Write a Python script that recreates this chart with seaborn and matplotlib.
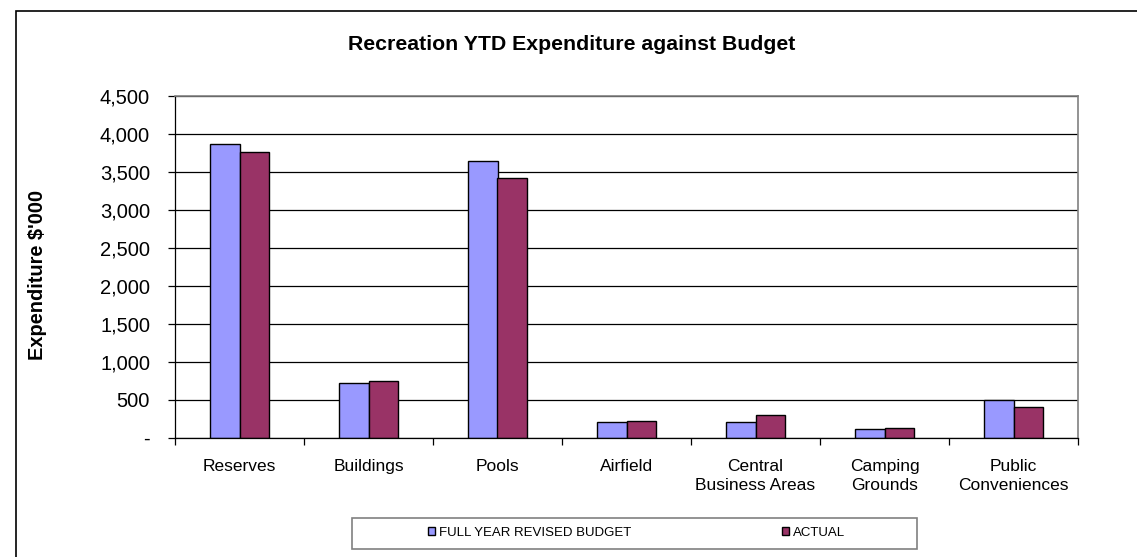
import matplotlib
matplotlib.use("Agg")
import matplotlib.pyplot as plt
from matplotlib.patches import Rectangle
from matplotlib.ticker import FuncFormatter, FixedLocator
import seaborn as sns
import pandas as pd

categories = ["Reserves", "Buildings", "Pools", "Airfield",
              "Central\nBusiness Areas", "Camping\nGrounds", "Public\nConveniences"]
budget = [3870, 718, 3635, 203, 203, 111, 500]
actual = [3765, 752, 3413, 224, 296, 128, 409]
series_names = ["FULL YEAR REVISED BUDGET", "ACTUAL"]
palette = ["#9999FF", "#993366"]
yticks = [0, 500, 1000, 1500, 2000, 2500, 3000, 3500, 4000, 4500]

df = pd.DataFrame({
    "category": categories * 2,
    "series": [series_names[0]] * len(categories) + [series_names[1]] * len(categories),
    "value": budget + actual,
})

sns.set_theme(style="white")
plt.rcParams["font.family"] = ["Liberation Sans", "DejaVu Sans"]
plt.rcParams["text.color"] = "black"
plt.rcParams["xtick.color"] = "black"
plt.rcParams["ytick.color"] = "black"

W, H = 1137, 557
fig = plt.figure(figsize=(W / 100, H / 100), dpi=100)
ax = fig.add_axes([175 / W, 1 - 437.7 / H, (1078 - 175) / W, (437.7 - 95.7) / H])

sns.barplot(data=df, x="category", y="value", hue="series", order=categories,
            hue_order=series_names, palette=palette, width=0.45,
            edgecolor="black", linewidth=1.0, saturation=1, legend=False, ax=ax)

ax.set_ylim(0, 4500)
ax.set_xlim(-0.5, len(categories) - 0.5)
ax.set_yticks(yticks)
ax.yaxis.set_major_formatter(FuncFormatter(lambda v, p: "-" if v == 0 else f"{v:,.0f}"))
ax.grid(axis="y", color="black", linewidth=0.9)
ax.set_axisbelow(True)

for side in ["top", "right"]:
    ax.spines[side].set_color("#808080")
    ax.spines[side].set_linewidth(1.2)
for side in ["left", "bottom"]:
    ax.spines[side].set_color("black")
    ax.spines[side].set_linewidth(0.9)

ax.set_xlabel("")
ax.set_ylabel("")
ax.tick_params(axis="y", which="major", direction="out", length=5, width=0.9,
               labelsize=14.5, labelcolor="black", pad=13, left=True)
ax.tick_params(axis="x", which="major", length=0, labelsize=12.5,
               labelcolor="black", pad=15)
ax.xaxis.set_minor_locator(FixedLocator([i - 0.5 for i in range(len(categories) + 1)]))
ax.tick_params(axis="x", which="minor", direction="out", length=5, width=0.9,
               bottom=True)
for lbl in ax.get_xticklabels():
    lbl.set_linespacing(1.35)

fig.text(571.5 / W, 1 - 44 / H, "Recreation YTD Expenditure against Budget",
         ha="center", va="center", fontsize=15.3, fontweight="bold", color="black")
fig.text(38 / W, 1 - 275 / H, "Expenditure $'000", rotation=90,
         ha="center", va="center", fontsize=14.4, fontweight="bold", color="black")

# Outer chart frame
fig.patches.append(Rectangle((16 / W, -0.05), 1.2, 1 - 10.7 / H + 0.05,
                             transform=fig.transFigure, fill=False,
                             edgecolor="black", linewidth=1.2))

# Legend box and entries
fig.patches.append(Rectangle((352 / W, 1 - 549 / H), (917 - 352) / W, (549 - 517.7) / H,
                             transform=fig.transFigure, fill=False,
                             edgecolor="#808080", linewidth=1.2))
handles = [Rectangle((0, 0), 1, 1, facecolor=c, edgecolor="black", linewidth=1.0)
           for c in palette]
fig.legend(handles, series_names, loc="center", bbox_to_anchor=(636.5 / W, 1 - 533 / H),
           ncol=2, frameon=False, fontsize=9.5, handlelength=0.55, handleheight=0.55,
           handletextpad=0.3, columnspacing=11.4, labelcolor="black")

fig.savefig("out.png", dpi=100)
